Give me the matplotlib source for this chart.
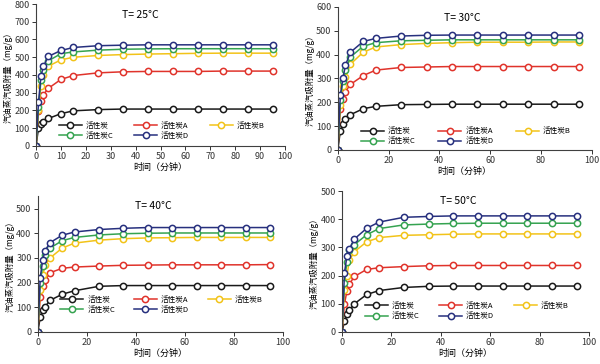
import numpy as np
import matplotlib
matplotlib.use("Agg")
import matplotlib.pyplot as plt

plt.rcParams['font.family'] = ['Noto Sans CJK SC', 'DejaVu Sans']

# time points (min)
t = [0, 1, 2, 3, 5, 10, 15, 25, 35, 45, 55, 65, 75, 85, 95]

labels = ["活性炭", "活性炭A", "活性炭B", "活性炭C", "活性炭D"]
colors = ["#1a1a1a", "#e0332b", "#f2c319", "#35a350", "#27307e"]

# adsorption (mg/g) at 25 C
ads_25 = [
    [0, 100, 125, 135, 155, 182, 198, 205, 208, 208, 208, 208, 208, 208, 208],
    [0, 195, 255, 290, 325, 375, 397, 412, 418, 420, 420, 420, 422, 422, 422],
    [0, 200, 340, 400, 450, 485, 500, 510, 515, 518, 520, 522, 523, 523, 523],
    [0, 220, 370, 430, 480, 520, 530, 540, 545, 547, 548, 548, 548, 548, 548],
    [0, 245, 395, 450, 505, 538, 555, 565, 568, 570, 570, 570, 570, 570, 570],
]
# 30 C
ads_30 = [
    [0, 80, 110, 130, 148, 173, 183, 190, 191, 192, 192, 192, 192, 192, 192],
    [0, 170, 215, 245, 275, 312, 335, 346, 348, 350, 350, 350, 350, 350, 350],
    [0, 190, 270, 305, 360, 410, 432, 442, 447, 450, 452, 452, 452, 453, 453],
    [0, 210, 290, 335, 390, 435, 450, 458, 460, 462, 462, 462, 462, 462, 462],
    [0, 230, 300, 355, 410, 455, 468, 478, 481, 482, 482, 482, 482, 482, 482],
]
# 40 C
ads_40 = [
    [0, 60, 90, 103, 128, 153, 167, 185, 188, 188, 188, 188, 188, 188, 188],
    [0, 140, 185, 210, 240, 258, 263, 267, 270, 271, 272, 272, 272, 272, 273],
    [0, 170, 230, 270, 300, 340, 360, 372, 378, 381, 382, 383, 383, 383, 383],
    [0, 200, 268, 310, 340, 370, 383, 393, 398, 400, 401, 401, 401, 401, 401],
    [0, 220, 292, 330, 362, 392, 405, 415, 420, 423, 423, 423, 423, 423, 423],
]
# 50 C
ads_50 = [
    [0, 38, 65, 78, 100, 133, 147, 158, 162, 163, 163, 163, 163, 163, 163],
    [0, 100, 145, 170, 197, 222, 228, 232, 235, 236, 236, 236, 236, 236, 236],
    [0, 150, 200, 255, 285, 320, 335, 343, 345, 347, 348, 348, 348, 348, 348],
    [0, 175, 250, 290, 310, 345, 367, 380, 383, 385, 386, 386, 386, 386, 386],
    [0, 210, 270, 295, 330, 368, 390, 407, 410, 412, 412, 412, 412, 412, 412],
]

panels = [
    # data, title, ylim, ystep, xstep, axes rect, title pos, legend y
    (ads_25, "T= 25°C", 800, 100, 10, [0.060, 0.599, 0.415, 0.390], (0.42, 0.92), 0.02),
    (ads_30, "T= 30°C", 600, 100, 20, [0.563, 0.588, 0.423, 0.393], (0.49, 0.92), 0.01),
    (ads_40, "T= 40°C", 550, 100, 20, [0.063, 0.088, 0.408, 0.373], (0.47, 0.93), 0.11),
    (ads_50, "T= 50°C", 500, 100, 20, [0.570, 0.088, 0.412, 0.387], (0.47, 0.93), 0.06),
]

# legend filled row by row like the original: 3 + 2
order = [0, 3, 1, 4, 2]

fig = plt.figure(figsize=(6, 3.64), dpi=100)

for data, title, ymax, ystep, xstep, rect, tpos, ly in panels:
    ax = fig.add_axes(rect)
    lines = []
    for vals, lab, c in zip(data, labels, colors):
        ln, = ax.plot(t, vals, color=c, lw=1.1, marker="o", ms=4.5,
                      mfc="white", mec=c, mew=1.1, label=lab)
        lines.append(ln)
    ax.set_xlim(0, 100)
    ax.set_ylim(0, ymax)
    ax.set_xticks(np.arange(0, 101, xstep))
    ax.set_yticks(np.arange(0, ymax + 1, ystep))
    ax.spines["top"].set_visible(False)
    ax.spines["right"].set_visible(False)
    for s in ("left", "bottom"):
        ax.spines[s].set_linewidth(0.8)
        ax.spines[s].set_color("#404040")
    ax.tick_params(labelsize=6.5, length=3, width=0.7, pad=1.5, colors="#333333")
    ax.set_xlabel("时间（分钟）", fontsize=6.5, labelpad=1)
    ax.set_ylabel("汽油蒸汽吸附量（mg/g）", fontsize=6, labelpad=1)
    ax.text(tpos[0], tpos[1], title, transform=ax.transAxes, ha="center",
            va="center", fontsize=7.5)
    ax.legend([lines[i] for i in order], [labels[i] for i in order],
              loc="lower left", bbox_to_anchor=(0.08, ly, 0.85, 0.2),
              mode="expand", ncol=3, frameon=False, fontsize=5.5,
              handlelength=3, borderaxespad=0, labelspacing=0.3,
              handletextpad=0.5)

fig.savefig("out.png", dpi=100)
